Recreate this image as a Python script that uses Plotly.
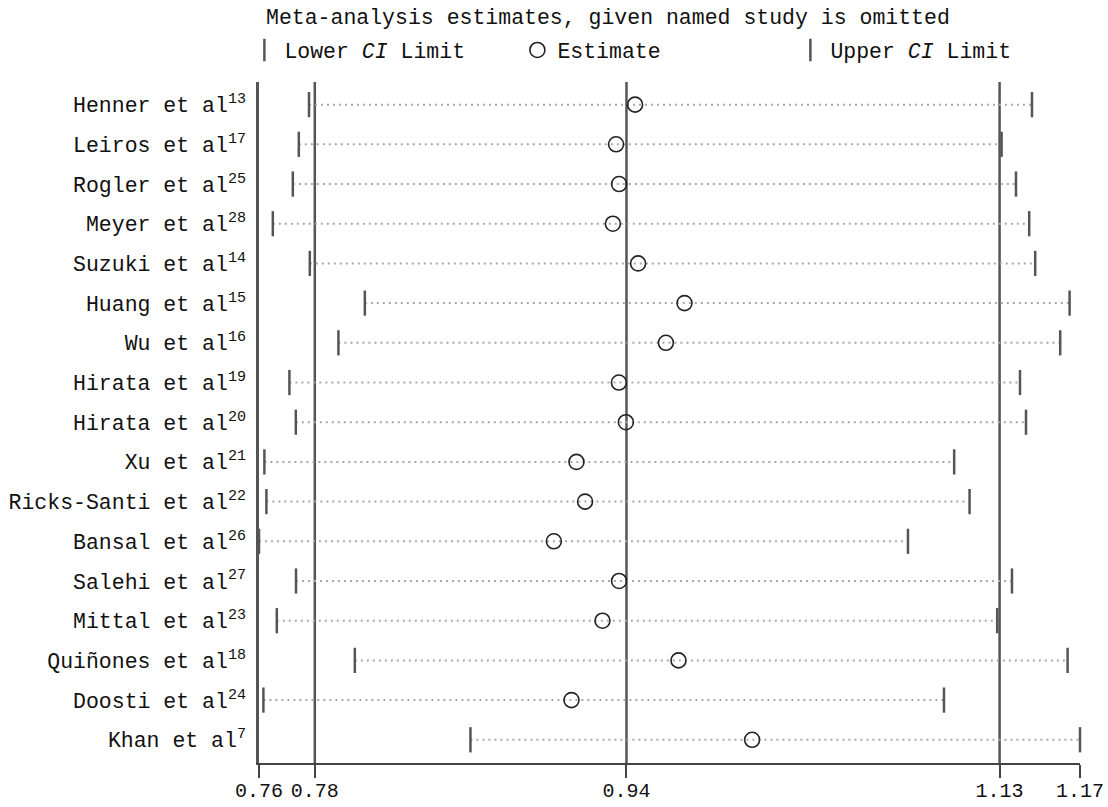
import plotly.graph_objects as go

studies = [
    "Henner et al<sup>13</sup>", "Leiros et al<sup>17</sup>", "Rogler et al<sup>25</sup>",
    "Meyer et al<sup>28</sup>", "Suzuki et al<sup>14</sup>", "Huang et al<sup>15</sup>",
    "Wu et al<sup>16</sup>", "Hirata et al<sup>19</sup>", "Hirata et al<sup>20</sup>",
    "Xu et al<sup>21</sup>", "Ricks-Santi et al<sup>22</sup>", "Bansal et al<sup>26</sup>",
    "Salehi et al<sup>27</sup>", "Mittal et al<sup>23</sup>", "Quiñones et al<sup>18</sup>",
    "Doosti et al<sup>24</sup>", "Khan et al<sup>7</sup>",
]
lower = [0.7810, 0.7759, 0.7729, 0.7629, 0.7814, 0.8089, 0.7957, 0.7712, 0.7744,
         0.7587, 0.7597, 0.7560, 0.7745, 0.7649, 0.8039, 0.7582, 0.8617]
estimate = [0.9440, 0.9345, 0.9360, 0.9329, 0.9455, 0.9687, 0.9594, 0.9359, 0.9394,
            0.9147, 0.9190, 0.9034, 0.9360, 0.9277, 0.9657, 0.9122, 1.0025]
upper = [1.1424, 1.1272, 1.1344, 1.1410, 1.1440, 1.1612, 1.1565, 1.1364, 1.1394,
         1.1035, 1.1112, 1.0804, 1.1324, 1.1250, 1.1602, 1.0984, 1.1664]

overall = [0.7839, 0.9397, 1.1262]          # combined lower CI, estimate, upper CI
tick_vals = [0.7560, 0.7839, 0.9397, 1.1262, 1.1664]
tick_text = ["0.76", "0.78", "0.94", "1.13", "1.17"]

FONT = "Liberation Mono"
ypos = list(range(len(studies)))

fig = go.Figure()

# dotted connectors
lx, ly = [], []
for y, lo, hi in zip(ypos, lower, upper):
    lx += [lo, hi, None]
    ly += [y, y, None]
fig.add_trace(go.Scatter(x=lx, y=ly, mode="lines", showlegend=False, hoverinfo="skip",
                         line=dict(color="#a8a8a8", width=2, dash="2px,4px")))

fig.add_trace(go.Scatter(x=lower, y=ypos, mode="markers", name="Lower <i>CI</i> Limit",
                         cliponaxis=False,
                         marker=dict(symbol="line-ns", size=18, color="#555555",
                                     line=dict(width=2.5, color="#555555"))))
fig.add_trace(go.Scatter(x=estimate, y=ypos, mode="markers", name="Estimate",
                         cliponaxis=False,
                         marker=dict(symbol="circle-open", size=15, color="#222222",
                                     line=dict(width=1.6, color="#222222"))))
fig.add_trace(go.Scatter(x=upper, y=ypos, mode="markers", name="Upper <i>CI</i> Limit",
                         cliponaxis=False,
                         marker=dict(symbol="line-ns", size=18, color="#555555",
                                     line=dict(width=2.5, color="#555555"))))

for v in overall:
    fig.add_shape(type="line", x0=v, x1=v, xref="x", y0=0, y1=1, yref="paper",
                  line=dict(color="#555555", width=2.5), layer="below")

fig.add_annotation(text="Meta-analysis estimates, given named study is omitted",
                   xref="paper", yref="paper", x=0.0057, y=1, xanchor="left",
                   yanchor="middle", yshift=64, showarrow=False,
                   font=dict(family=FONT, size=21.5, color="#111111"))

fig.update_layout(
    width=1108, height=807,
    margin=dict(l=259, r=28, t=82, b=44, autoexpand=False),
    paper_bgcolor="white", plot_bgcolor="white",
    font=dict(family=FONT, size=21.5, color="#111111"),
    showlegend=True,
    legend=dict(orientation="h", x=-0.0178, xanchor="left", y=1.047, yanchor="middle",
                entrywidth=228, entrywidthmode="pixels", traceorder="normal",
                font=dict(family=FONT, size=21.5, color="#111111"),
                bgcolor="rgba(0,0,0,0)"),
    xaxis=dict(range=[tick_vals[0], tick_vals[-1]], tickvals=tick_vals, ticktext=tick_text,
               ticks="outside", ticklen=13, tickwidth=1.5, tickcolor="#444444",
               showline=True, linewidth=2, linecolor="#444444", showgrid=False,
               zeroline=False, automargin=False, ticklabelstandoff=-5,
               tickfont=dict(family=FONT, size=20, color="#111111")),
    yaxis=dict(range=[len(studies) - 1 + 0.585, -0.57], tickvals=ypos, ticktext=studies,
               ticks="", showline=True, linewidth=2.5, linecolor="#555555",
               showgrid=False, zeroline=False, ticklabelstandoff=6, automargin=False,
               tickfont=dict(family=FONT, size=21.5, color="#111111")),
)

fig.write_html("out.html")
